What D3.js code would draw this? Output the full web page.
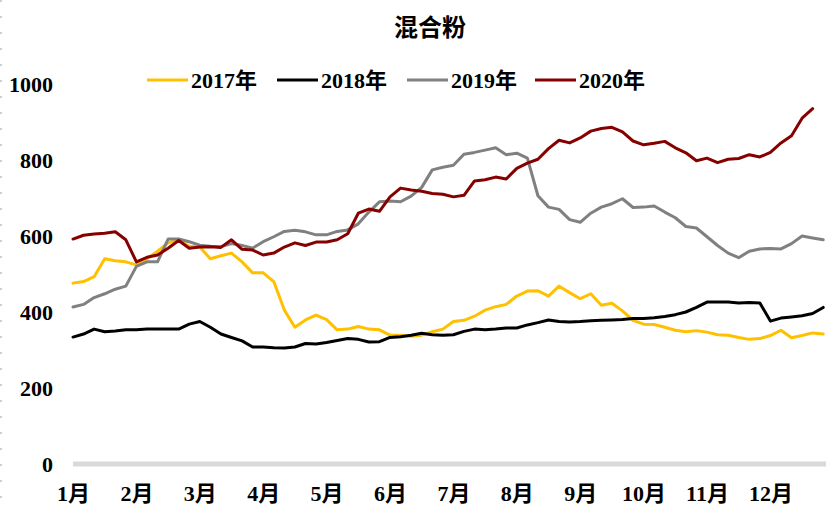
<!DOCTYPE html>
<html><head><meta charset="utf-8">
<script src="https://cdn.jsdelivr.net/npm/d3@7/dist/d3.min.js"></script>
<style>
html,body{margin:0;padding:0;background:#fff;}
svg text{font-family:"Liberation Serif","Noto Sans CJK SC",serif;}
</style></head>
<body><svg id="c" width="826" height="507"></svg>
<script>
// ---- data (sampled every 1/6 month) ----
const title = "混合粉";
const monthLabels = ["1月","2月","3月","4月","5月","6月","7月","8月","9月","10月","11月","12月"];
const yTicks = [0,200,400,600,800,1000];
const seriesNames = ["2017年","2018年","2019年","2020年"];
const seriesColors = ["#FFC000","#000000","#808080","#860000"];
const stepsPerMonth = 6;

const v2017 = [476,480,493,540,535,532,524,540,560,582,590,573,571,540,548,555,532,503,503,480,
  405,360,379,392,380,353,355,362,355,353,339,339,336,339,348,355,375,378,389,405,
  414,420,442,455,456,442,468,451,435,448,418,423,403,378,368,367,360,352,348,351,
  347,340,339,333,328,330,338,352,332,338,345,342];
const v2018 = [334,342,355,348,350,353,353,355,355,355,355,368,375,360,342,333,324,308,308,306,
  305,308,317,316,320,325,330,328,321,322,333,335,339,344,340,339,340,349,355,353,
  355,358,358,366,372,379,375,374,375,377,378,379,380,383,383,385,388,393,400,412,
  426,426,426,424,425,424,376,384,387,390,396,412];
const v2019 = [413,420,438,448,460,468,520,532,532,592,592,585,576,573,572,580,575,568,585,598,
  612,615,611,603,603,612,616,632,663,690,692,690,705,728,774,781,786,815,820,826,
  832,814,818,805,706,676,670,643,636,660,676,685,698,675,676,679,663,648,625,621,
  598,575,555,543,560,566,567,566,580,600,595,590];
const v2020 = [592,602,605,607,611,590,532,544,550,568,588,568,571,572,570,590,565,563,550,555,
  571,582,575,584,584,590,606,660,671,665,703,726,721,718,712,710,703,707,745,748,
  755,750,778,792,802,830,852,845,858,876,883,886,874,850,840,844,849,832,819,798,
  805,793,802,804,814,808,820,845,864,910,935];
const seriesValues = [v2017, v2018, v2019, v2020];

// ---- chart ----
const svg = d3.select("#c");
const x = d3.scaleLinear().domain([0, 12]).range([73, 73 + 12 * 63.4]);
const y = d3.scaleLinear().domain([0, 1000]).range([464, 84]);

// left dashed edge
svg.append("line").attr("x1",1).attr("x2",1).attr("y1",0).attr("y2",507)
  .attr("stroke","#d0d0d0").attr("stroke-width",2).attr("stroke-dasharray","2,14");

// title
svg.append("text").attr("x",430).attr("y",25).attr("text-anchor","middle")
  .attr("dominant-baseline","central")
  .style("font-family","'Noto Sans CJK SC',sans-serif").style("font-weight","bold")
  .style("font-size","24px").attr("fill","#000").text(title);

// baseline
svg.append("line").attr("x1",73).attr("x2",826).attr("y1",y(0)).attr("y2",y(0))
  .attr("stroke","#d9d9d9").attr("stroke-width",5);

// y axis
const ya = svg.append("g").attr("transform","translate(73,0)")
  .call(d3.axisLeft(y).tickValues(yTicks).tickSize(0).tickPadding(20).tickFormat(d3.format("d")));
ya.select(".domain").remove();
ya.selectAll("text").style("font-size","22px").style("font-weight","bold").attr("fill","#000")
  .style("font-family","'Liberation Serif',serif");

// x axis
const xa = svg.append("g").attr("transform","translate(0,493)")
  .call(d3.axisBottom(x).tickValues(d3.range(12)).tickSize(0).tickPadding(0)
    .tickFormat(i => monthLabels[i]));
xa.select(".domain").remove();
xa.selectAll("text").attr("dy","0.35em").attr("y",0).style("font-size","22px")
  .style("font-weight","bold").attr("fill","#000");

// lines
const line = d3.line().x((d,i) => x(i / stepsPerMonth)).y(d => y(d)).curve(d3.curveLinear);
seriesValues.forEach((vals, si) => {
  svg.append("path").datum(vals).attr("d", line).attr("fill","none")
    .attr("stroke", seriesColors[si]).attr("stroke-width",3)
    .attr("stroke-linejoin","round").attr("stroke-linecap","round");
});

// legend
const legendX = [147, 277, 407, 535];
const lg = svg.append("g");
seriesNames.forEach((n, i) => {
  lg.append("line").attr("x1",legendX[i]).attr("x2",legendX[i]+41).attr("y1",80).attr("y2",80)
    .attr("stroke",seriesColors[i]).attr("stroke-width",3);
  lg.append("text").attr("x",legendX[i]+44).attr("y",80).attr("dominant-baseline","central")
    .style("font-size","22px").style("font-weight","bold").attr("fill","#000").text(n);
});
</script></body></html>
